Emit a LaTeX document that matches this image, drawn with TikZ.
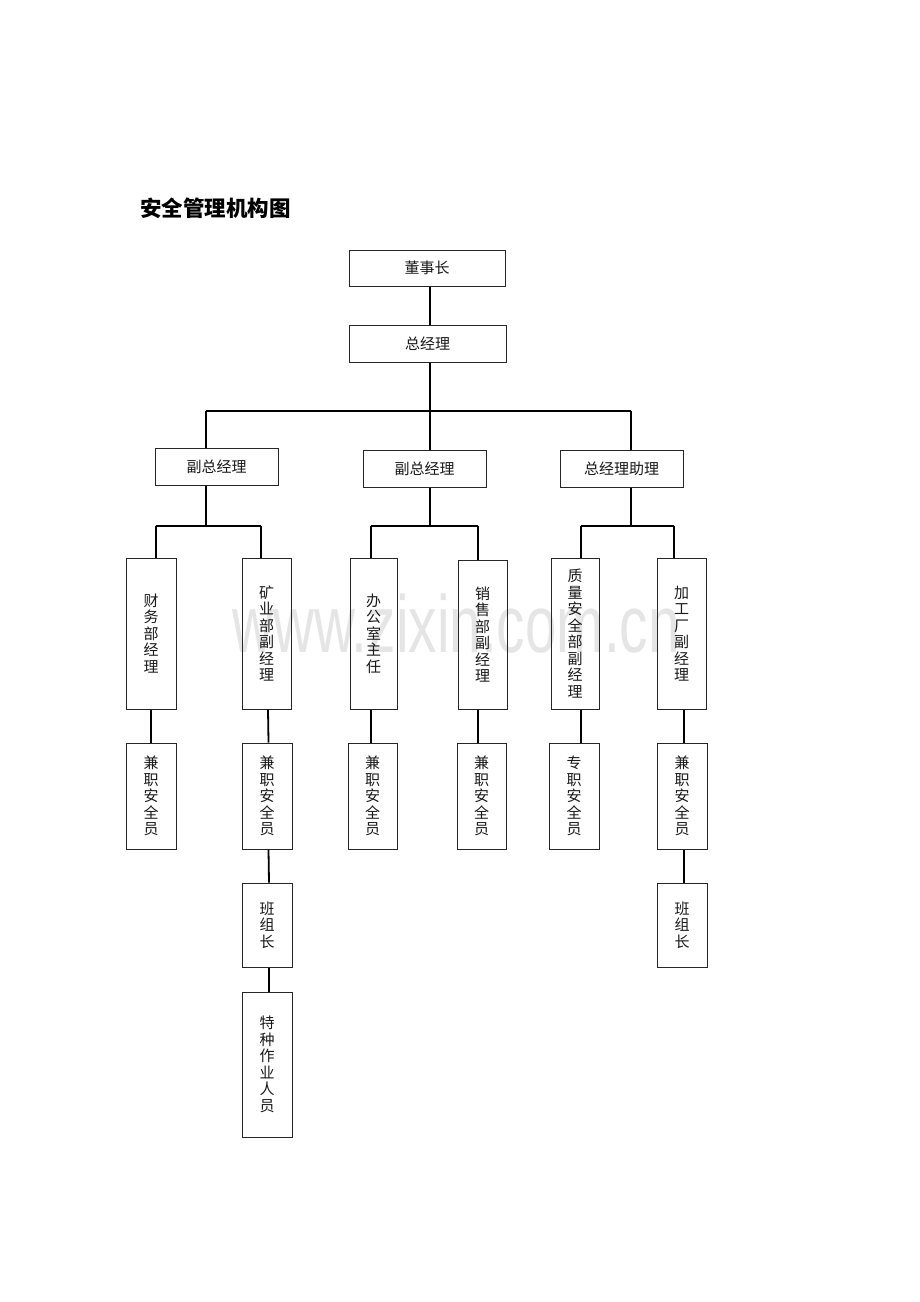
\documentclass[tikz,border=0pt]{standalone}
\usepackage{fontspec}
\newfontfamily\cjk{Noto Sans CJK SC}
\newfontfamily\wmfont{Liberation Sans}
\begin{document}
\begin{tikzpicture}[x=1pt,y=-1pt,
  box/.style={draw=black!85, line width=1pt, inner sep=0pt, align=center,
    font=\cjk\fontsize{15}{16.5}\selectfont, text=black!90},
  link/.style={draw=black, line width=1.8pt},
  wmark/.style={text=black!10, font=\wmfont\fontsize{81}{81}\selectfont, xscale=0.7, inner sep=0pt}]
\newcommand\bx[6]{\node[box, minimum width={#4-#2}, minimum height={#5-#3}] (#1) at ({(#2+#4)/2},{(#3+#5)/2}) {#6};}
\fill[white] (0,0) rectangle (920,1302);
\useasboundingbox (0,0) rectangle (920,1302);
% watermark
\node[wmark, anchor=base] (wm) at (456,652) {www.zixin.com.cn};
% title
\node[anchor=west, inner sep=0pt, font=\cjk\bfseries\fontsize{21.5}{23}\selectfont] (title) at (140,208) {安全管理机构图};
% level 0-2
\bx{dsz}{349}{250}{505}{286}{董事长}
\bx{zjl}{349}{325}{506}{362}{总经理}
\bx{fz1}{155}{448}{278}{485}{副总经理}
\bx{fz2}{363}{450}{486}{487}{副总经理}
\bx{zz}{560}{450}{683}{487}{总经理助理}
% level 3
\bx{cw}{126}{558}{176}{709}{财\\务\\部\\经\\理}
\bx{ky}{242}{558}{291}{709}{矿\\业\\部\\副\\经\\理}
\bx{bg}{350}{558}{397}{709}{办\\公\\室\\主\\任}
\bx{xs}{458}{560}{507}{709}{销\\售\\部\\副\\经\\理}
\bx{zl}{551}{558}{599}{709}{质\\量\\安\\全\\部\\副\\经\\理}
\bx{jg}{657}{558}{706}{709}{加\\工\\厂\\副\\经\\理}
% level 4
\bx{a1}{126}{743}{176}{849}{兼\\职\\安\\全\\员}
\bx{a2}{242}{743}{292}{849}{兼\\职\\安\\全\\员}
\bx{a3}{348}{743}{397}{849}{兼\\职\\安\\全\\员}
\bx{a4}{457}{743}{506}{849}{兼\\职\\安\\全\\员}
\bx{a5}{549}{743}{599}{849}{专\\职\\安\\全\\员}
\bx{a6}{657}{743}{707}{849}{兼\\职\\安\\全\\员}
% level 5-6
\bx{b1}{242}{883}{292}{967}{班\\组\\长}
\bx{b2}{657}{883}{707}{967}{班\\组\\长}
\bx{c1}{242}{992}{292}{1137}{特\\种\\作\\业\\人\\员}
% junction coordinates
\coordinate (m0) at (430,411);
\coordinate (l0) at (206,411);
\coordinate (r0) at (631,411);
\coordinate (j1) at (206,526);
\coordinate (j1l) at (156,526);
\coordinate (j1r) at (261,526);
\coordinate (j2) at (430,526);
\coordinate (j2l) at (371,526);
\coordinate (j2r) at (478,526);
\coordinate (j3) at (631,526);
\coordinate (j3l) at (581,526);
\coordinate (j3r) at (674,526);
% connectors
\draw[link] (dsz.south -| m0) -- (zjl.north -| m0);
\draw[link] (zjl.south -| m0) -- (m0);
\draw[link] (l0) -- (r0);
\draw[link] (l0) -- (fz1.north -| l0);
\draw[link] (m0) -- (fz2.north -| m0);
\draw[link] (r0) -- (zz.north -| r0);
\draw[link] (fz1.south -| j1) -- (j1);
\draw[link] (j1l) -- (j1r);
\draw[link] (j1l) -- (cw.north -| j1l);
\draw[link] (j1r) -- (ky.north -| j1r);
\draw[link] (fz2.south -| j2) -- (j2);
\draw[link] (j2l) -- (j2r);
\draw[link] (j2l) -- (bg.north -| j2l);
\draw[link] (j2r) -- (xs.north -| j2r);
\draw[link] (zz.south -| j3) -- (j3);
\draw[link] (j3l) -- (j3r);
\draw[link] (j3l) -- (zl.north -| j3l);
\draw[link] (j3r) -- (jg.north -| j3r);
\draw[link] (cw.south) -- (a1.north);
\draw[link] ([xshift=1.5pt]ky.south) -- ([xshift=1.5pt]a2.north);
\draw[link] ([xshift=-2.5pt]bg.south) -- ([xshift=-1.5pt]a3.north);
\draw[link] ([xshift=-4.5pt]xs.south) -- ([xshift=-3.5pt]a4.north);
\draw[link] ([xshift=6pt]zl.south) -- ([xshift=7pt]a5.north);
\draw[link] ([xshift=2.5pt]jg.south) -- ([xshift=2pt]a6.north);
\draw[link] ([xshift=1.5pt]a2.south) -- ([xshift=2pt]b1.north);
\draw[link] ([xshift=2pt]a6.south) -- ([xshift=2pt]b2.north);
\draw[link] ([xshift=2pt]b1.south) -- ([xshift=2pt]c1.north);
\end{tikzpicture}
\end{document}
